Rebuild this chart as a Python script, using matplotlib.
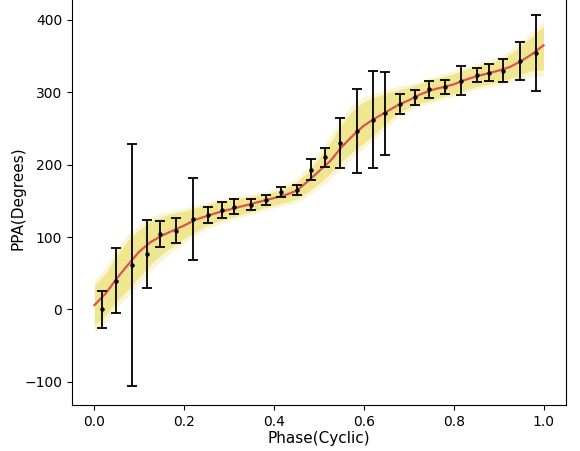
import matplotlib
matplotlib.use("Agg")
import matplotlib.pyplot as plt
import numpy as np

# Observed points
phase = [0.016, 0.047, 0.083, 0.118, 0.145, 0.181, 0.219, 0.254, 0.284, 0.310,
         0.349, 0.381, 0.415, 0.452, 0.482, 0.514, 0.547, 0.584, 0.620, 0.648,
         0.680, 0.713, 0.745, 0.780, 0.817, 0.851, 0.878, 0.910, 0.948, 0.984]
ppa = [0, 40, 61, 76, 104, 109, 125, 131, 137, 142,
       145, 151.5, 162, 165, 193, 210, 230, 246, 262, 271,
       284, 293, 304, 307.5, 316, 324, 327, 330, 343, 354.5]
ppa_err = [26, 45, 167, 47, 18, 17, 56, 11, 11, 10,
           7, 6.5, 6.5, 7, 14.5, 12.5, 35, 58, 67, 57,
           13.5, 10.5, 12, 10, 20, 10, 12, 16, 26, 53]

# Model curve and spread band
model_phase = [0.0, 0.025, 0.05, 0.075, 0.1, 0.125, 0.15, 0.175, 0.2, 0.225,
               0.25, 0.275, 0.3, 0.325, 0.35, 0.375, 0.4, 0.425, 0.45, 0.475,
               0.5, 0.525, 0.55, 0.575, 0.6, 0.625, 0.65, 0.675, 0.7, 0.725,
               0.75, 0.775, 0.8, 0.825, 0.85, 0.875, 0.9, 0.925, 0.95, 0.975, 1.0]
model_ppa = [6, 22, 43, 62, 80, 93, 102, 109, 116, 124,
             129, 134, 138, 142, 146, 150, 154, 158, 164, 177,
             191, 205, 224, 240, 254, 264, 273, 282, 289, 297,
             303, 307, 311, 317, 322, 326, 330, 335, 343, 353, 365]
band_hi = [33, 50, 75, 96, 110, 122, 128, 133, 136, 140,
           145, 149, 151, 154, 156, 159, 163, 168, 176, 190,
           209, 230, 255, 275, 287, 293, 299, 303, 307, 312,
           318, 321, 326, 331, 336, 340, 344, 352, 364, 377, 391]
band_lo = [-22, -8, 12, 27, 45, 62, 76, 88, 98, 107,
           116, 122, 126, 131, 135, 140, 144, 148, 153, 162,
           174, 188, 204, 218, 230, 243, 258, 271, 279, 285,
           289, 294, 298, 303, 308, 311, 314, 319, 325, 330, 331]
# faint outer sample lines
outer_hi = [40, 58, 84, 104, 117, 128, 133, 137, 140, 144,
            148, 152, 154, 157, 159, 162, 166, 172, 181, 197,
            218, 240, 265, 284, 294, 299, 304, 308, 311, 316,
            321, 325, 330, 335, 340, 344, 349, 358, 370, 384, 398]
outer_lo = [-32, -18, 3, 18, 36, 53, 68, 81, 92, 102,
            111, 117, 122, 127, 131, 136, 140, 144, 148, 156,
            167, 180, 195, 210, 223, 236, 251, 265, 274, 281,
            285, 290, 294, 299, 304, 307, 310, 314, 319, 322, 322]

fig = plt.figure(figsize=(5.8, 4.51), dpi=100)
ax = fig.add_axes([0.1241, 0.102, 0.8517, 0.918])

ax.fill_between(model_phase, outer_lo, outer_hi, color=(0.95, 0.92, 0.65),
                alpha=0.45, linewidth=0, zorder=1)
ax.fill_between(model_phase, band_lo, band_hi, color=(0.94, 0.90, 0.55),
                alpha=0.95, linewidth=0, zorder=1)
ax.plot(model_phase, model_ppa, color=(0.84, 0.33, 0.33), lw=1.6, zorder=2)
ax.errorbar(phase, ppa, yerr=ppa_err, fmt='o', color='black', ms=2.2,
            ecolor='black', elinewidth=1.3, capsize=3.5, capthick=1.3, zorder=3)

ax.set_xlim(-0.05, 1.05)
ax.set_ylim(-132, 440)
ax.set_xticks([0.0, 0.2, 0.4, 0.6, 0.8, 1.0])
ax.set_yticks([-100, 0, 100, 200, 300, 400])
ax.tick_params(labelsize=10)
ax.set_xlabel("Phase(Cyclic)", fontsize=11, labelpad=2)
ax.set_ylabel("PPA(Degrees)", fontsize=11, labelpad=-1)

fig.savefig("out.png", dpi=100)
